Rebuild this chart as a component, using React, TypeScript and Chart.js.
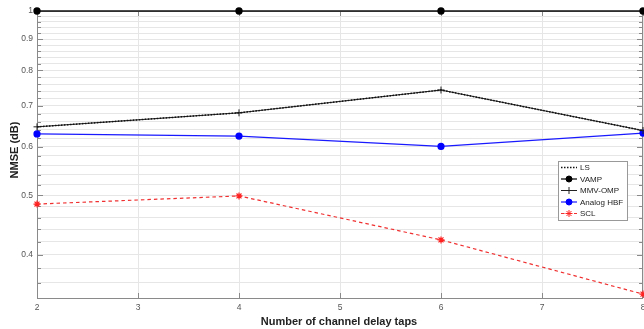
import React, { useEffect, useRef } from "react";
import { Chart, registerables } from "chart.js";
import { drawPoint } from "chart.js/helpers";

Chart.register(...registerables);

const taps = [2, 4, 6, 8];
const lsValues = [0.647, 0.682, 0.743, 0.638];
const vampValues = [1, 1, 1, 1];
const mmvValues = [0.647, 0.682, 0.743, 0.638];
const hbfValues = [0.63, 0.625, 0.601, 0.632];
const sclValues = [0.484, 0.499, 0.423, 0.345];
const xTickLabels = [2, 3, 4, 5, 6, 7, 8];
const yMajorTicks = [0.4, 0.5, 0.6, 0.7, 0.8, 0.9, 1];
const yMinorTicks: number[] = [];
for (let i = 18; i <= 50; i++) yMinorTicks.push(Math.round(i * 2) / 100);

const FONT = "'Liberation Sans', Arial, Helvetica, sans-serif";
const AXIS_COLOR = "#8a8a8a";

const isMajor = (v: number) => yMajorTicks.some((m) => Math.abs(m - v) < 1e-6);

const decorPlugin = {
  id: "decor",
  beforeDatasetsDraw(chart: any) {
    const { ctx, chartArea } = chart;
    const { left, right, top, bottom } = chartArea;
    ctx.save();
    ctx.strokeStyle = AXIS_COLOR;
    ctx.lineWidth = 1;
    ctx.strokeRect(left + 0.5, top + 0.5, right - left - 1, bottom - top);
    const y = chart.scales.y;
    ctx.beginPath();
    yMinorTicks.forEach((v) => {
      const py = Math.round(y.getPixelForValue(v)) + 0.5;
      const len = isMajor(v) ? 6 : 4;
      ctx.moveTo(left, py);
      ctx.lineTo(left + len, py);
      ctx.moveTo(right, py);
      ctx.lineTo(right - len, py);
    });
    const x = chart.scales.x;
    xTickLabels.forEach((t) => {
      const px = Math.round(x.getPixelForValue(t)) + 0.5;
      ctx.moveTo(px, bottom);
      ctx.lineTo(px, bottom - 5);
      ctx.moveTo(px, top);
      ctx.lineTo(px, top + 5);
    });
    ctx.stroke();
    ctx.fillStyle = "#555";
    ctx.font = `8.5px ${FONT}`;
    ctx.textAlign = "center";
    ctx.textBaseline = "middle";
    xTickLabels.forEach((t) => {
      ctx.fillText(String(t), x.getPixelForValue(t), 308);
    });
    ctx.restore();
  },
  afterDraw(chart: any) {
    const { ctx } = chart;
    ctx.save();
    ctx.fillStyle = "#222";
    ctx.font = `bold 11px ${FONT}`;
    ctx.textAlign = "center";
    ctx.textBaseline = "middle";
    ctx.fillText("Number of channel delay taps", 339, 322);
    ctx.translate(15, 150);
    ctx.rotate(-Math.PI / 2);
    ctx.fillText("NMSE (dB)", 0, 0);
    ctx.restore();

    // legend
    ctx.save();
    const bx = 558, by = 161, bw = 69, bh = 59;
    ctx.fillStyle = "#fff";
    ctx.fillRect(bx, by, bw, bh);
    ctx.strokeStyle = "#999";
    ctx.lineWidth = 1;
    ctx.strokeRect(bx + 0.5, by + 0.5, bw, bh);
    ctx.font = `8px ${FONT}`;
    ctx.textBaseline = "middle";
    chart.data.datasets.forEach((ds: any, i: number) => {
      const ly = 167.5 + i * 11.5;
      ctx.save();
      ctx.strokeStyle = ds.borderColor;
      ctx.lineWidth = ds.borderWidth;
      ctx.setLineDash(ds.borderDash || []);
      ctx.beginPath();
      ctx.moveTo(561, ly);
      ctx.lineTo(577, ly);
      ctx.stroke();
      ctx.setLineDash([]);
      if (ds.pointRadius > 0) {
        ctx.fillStyle = ds.pointBackgroundColor;
        ctx.strokeStyle = ds.pointBorderColor;
        ctx.lineWidth = 1;
        drawPoint(ctx, { pointStyle: ds.pointStyle, radius: ds.pointRadius, rotation: 0, borderWidth: 1 }, 569, ly);
      }
      ctx.restore();
      ctx.fillStyle = "#222";
      ctx.fillText(ds.label, 580, ly + 0.5);
    });
    ctx.restore();
  },
};

export default function App() {
  const ref = useRef<HTMLCanvasElement | null>(null);
  useEffect(() => {
    document.body.style.margin = "0";
    const mk = (x: number[], v: number[]) => x.map((t, i) => ({ x: t, y: v[i] }));
    const chart = new Chart(ref.current as HTMLCanvasElement, {
      type: "line",
      data: {
        datasets: [
          {
            label: "LS",
            data: mk(taps, lsValues),
            borderColor: "#111",
            borderWidth: 1.5,
            borderDash: [1.5, 1.5],
            pointRadius: 0,
            pointStyle: "circle",
            pointBackgroundColor: "#111",
            pointBorderColor: "#111",
            clip: false,
          },
          {
            label: "VAMP",
            data: mk(taps, vampValues),
            borderColor: "#111",
            borderWidth: 1.3,
            pointRadius: 3,
            pointStyle: "circle",
            pointBackgroundColor: "#000",
            pointBorderColor: "#000",
            clip: false,
          },
          {
            label: "MMV-OMP",
            data: mk(taps, mmvValues),
            borderColor: "#222",
            borderWidth: 1,
            pointRadius: 3.5,
            pointStyle: "cross",
            pointBackgroundColor: "#222",
            pointBorderColor: "#222",
            clip: false,
          },
          {
            label: "Analog HBF",
            data: mk(taps, hbfValues),
            borderColor: "#1a1aff",
            borderWidth: 1.2,
            pointRadius: 3,
            pointStyle: "circle",
            pointBackgroundColor: "#0000ff",
            pointBorderColor: "#0000ff",
            clip: false,
          },
          {
            label: "SCL",
            data: mk(taps, sclValues),
            borderColor: "#f03030",
            borderWidth: 1.2,
            borderDash: [3.5, 3],
            pointRadius: 3.5,
            pointStyle: "star",
            pointBackgroundColor: "#ff2020",
            pointBorderColor: "#ff2020",
            clip: false,
          },
        ] as any,
      },
      options: {
        animation: false,
        responsive: false,
        layout: { autoPadding: false, padding: { top: 11, right: 1, left: 0, bottom: 0 } },
        plugins: { legend: { display: false }, tooltip: { enabled: false } },
        elements: { line: { tension: 0 } },
        scales: {
          x: {
            type: "linear",
            min: 2,
            max: 8,
            ticks: { display: false, stepSize: 1 },
            grid: { color: "#e6e6e6", drawTicks: false },
            border: { display: false },
            afterFit: (s: any) => {
              s.height = 31;
              s.paddingLeft = 0;
              s.paddingRight = 0;
            },
          },
          y: {
            type: "logarithmic",
            min: 0.344,
            max: 1,
            afterBuildTicks: (s: any) => {
              s.ticks = yMinorTicks.map((v) => ({ value: v }));
            },
            ticks: {
              autoSkip: false,
              color: "#555",
              font: { size: 8.5, family: FONT },
              padding: 4,
              callback: (v: any) => {
                const n = Number(v);
                return isMajor(n) ? String(Math.round(n * 10) / 10) : "";
              },
            },
            grid: { color: "#e6e6e6", drawTicks: false },
            border: { display: false },
            afterFit: (s: any) => {
              s.width = 37;
              s.paddingTop = 0;
              s.paddingBottom = 0;
            },
          },
        },
      } as any,
      plugins: [decorPlugin],
    });
    return () => chart.destroy();
  }, []);
  return <canvas ref={ref} width={644} height={329} style={{ display: "block" }} />;
}
